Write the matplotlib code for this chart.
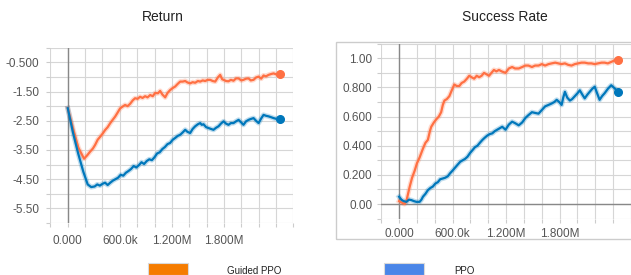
import numpy as np
import matplotlib
matplotlib.use("Agg")
import matplotlib.pyplot as plt
from matplotlib.patches import Rectangle

plt.rcParams['font.family'] = ['Liberation Sans', 'DejaVu Sans']

# ---- data (steps in thousands) ----
ret_guided_x = [0, 65, 122, 188, 225, 257, 290, 315, 345, 373, 400, 430, 460, 488, 515, 546,
                575, 603, 630, 661, 690, 719, 750, 776, 805, 834, 862, 892, 920, 950, 980,
                1007, 1040, 1065, 1090, 1123, 1150, 1180, 1210, 1238, 1267, 1296, 1325, 1354,
                1380, 1411, 1440, 1469, 1500, 1527, 1556, 1584, 1613, 1642, 1670, 1700, 1730,
                1757, 1780, 1796, 1825, 1853, 1880, 1911, 1940, 1969, 2000, 2026, 2055, 2084,
                2110, 2142, 2170, 2200, 2230, 2257, 2285, 2315, 2345, 2373, 2410, 2450]
ret_guided_y = [-2.07, -2.82, -3.42, -3.80, -3.68, -3.56, -3.45, -3.33, -3.15, -3.05, -2.95,
                -2.82, -2.72, -2.59, -2.48, -2.36, -2.22, -2.08, -2.02, -1.96, -2.00, -1.92,
                -1.80, -1.73, -1.75, -1.68, -1.72, -1.66, -1.70, -1.62, -1.66, -1.55, -1.56,
                -1.48, -1.60, -1.70, -1.55, -1.45, -1.38, -1.33, -1.24, -1.16, -1.16, -1.14,
                -1.19, -1.22, -1.18, -1.20, -1.14, -1.16, -1.12, -1.14, -1.10, -1.10, -1.14,
                -1.16, -1.02, -0.93, -1.08, -1.10, -1.14, -1.15, -1.10, -1.13, -1.05, -1.05,
                -1.12, -1.10, -1.06, -1.05, -1.12, -1.10, -1.02, -0.99, -1.06, -0.95, -0.98,
                -0.93, -0.90, -0.88, -0.92, -0.91]

ret_ppo_x = [0, 60, 120, 180, 230, 270, 310, 340, 370, 400, 430, 460, 490, 520, 550, 580, 610,
             640, 670, 700, 730, 760, 790, 820, 850, 880, 910, 940, 970, 1000, 1030, 1060,
             1090, 1120, 1150, 1180, 1210, 1238, 1267, 1296, 1325, 1354, 1380, 1411, 1440,
             1469, 1500, 1527, 1545, 1565, 1595, 1623, 1650, 1680, 1710, 1738, 1765, 1796,
             1825, 1853, 1880, 1911, 1940, 1969, 2000, 2026, 2055, 2084, 2110, 2142, 2170,
             2200, 2230, 2257, 2285, 2315, 2345, 2373, 2410, 2450]
ret_ppo_y = [-2.07, -2.90, -3.62, -4.25, -4.68, -4.77, -4.75, -4.68, -4.72, -4.66, -4.62, -4.70,
             -4.62, -4.55, -4.50, -4.45, -4.35, -4.38, -4.28, -4.22, -4.15, -4.05, -4.10, -4.02,
             -3.92, -3.98, -3.88, -3.82, -3.85, -3.75, -3.62, -3.58, -3.47, -3.40, -3.30, -3.26,
             -3.15, -3.09, -3.02, -2.98, -2.90, -2.81, -2.88, -2.92, -2.78, -2.69, -2.62, -2.58,
             -2.64, -2.62, -2.72, -2.75, -2.78, -2.81, -2.74, -2.69, -2.60, -2.52, -2.60, -2.64,
             -2.58, -2.58, -2.52, -2.47, -2.56, -2.64, -2.52, -2.47, -2.44, -2.41, -2.50, -2.58,
             -2.42, -2.30, -2.33, -2.35, -2.38, -2.41, -2.44, -2.43]

suc_guided_x = [0, 30, 60, 82, 100, 119, 145, 175, 200, 230, 267, 295, 322, 345, 360, 390, 415,
                445, 471, 490, 508, 535, 563, 590, 619, 645, 675, 700, 730, 760, 786, 812, 841,
                870, 897, 925, 952, 980, 1008, 1035, 1063, 1090, 1119, 1150, 1193, 1230, 1267,
                1300, 1341, 1380, 1415, 1450, 1489, 1525, 1563, 1600, 1637, 1675, 1711, 1750,
                1785, 1820, 1859, 1895, 1933, 1970, 2007, 2045, 2081, 2120, 2156, 2193, 2230,
                2270, 2304, 2340, 2378, 2415, 2452]
suc_guided_y = [0.02, 0.01, 0.00, 0.02, 0.07, 0.12, 0.18, 0.23, 0.28, 0.32, 0.38, 0.42, 0.44,
                0.50, 0.53, 0.56, 0.58, 0.60, 0.63, 0.68, 0.71, 0.72, 0.74, 0.78, 0.82, 0.81,
                0.81, 0.83, 0.84, 0.86, 0.88, 0.87, 0.86, 0.88, 0.87, 0.88, 0.90, 0.89, 0.88,
                0.90, 0.92, 0.91, 0.92, 0.91, 0.90, 0.93, 0.94, 0.93, 0.93, 0.94, 0.95, 0.95,
                0.94, 0.95, 0.95, 0.96, 0.95, 0.96, 0.965, 0.97, 0.965, 0.96, 0.965, 0.955, 0.95,
                0.96, 0.965, 0.97, 0.97, 0.965, 0.965, 0.96, 0.965, 0.97, 0.97, 0.965, 0.975,
                0.985, 0.99]

suc_ppo_x = [0, 25, 50, 82, 110, 137, 165, 193, 230, 250, 267, 295, 322, 350, 378, 405, 434,
             460, 489, 515, 545, 570, 600, 628, 656, 685, 712, 740, 767, 795, 823, 850, 878,
             905, 934, 960, 989, 1017, 1045, 1072, 1100, 1128, 1156, 1193, 1230, 1267, 1300,
             1341, 1380, 1415, 1450, 1489, 1525, 1563, 1600, 1637, 1675, 1711, 1740, 1767,
             1795, 1822, 1840, 1859, 1885, 1915, 1940, 1970, 2000, 2026, 2055, 2081, 2110,
             2137, 2165, 2193, 2220, 2248, 2275, 2304, 2340, 2378, 2415, 2452]
suc_ppo_y = [0.05, 0.03, 0.02, 0.015, 0.03, 0.027, 0.02, 0.015, 0.015, 0.03, 0.05, 0.07, 0.095,
             0.11, 0.12, 0.14, 0.15, 0.17, 0.175, 0.18, 0.19, 0.21, 0.23, 0.25, 0.27, 0.29,
             0.30, 0.31, 0.325, 0.35, 0.37, 0.39, 0.40, 0.42, 0.44, 0.455, 0.47, 0.48, 0.485,
             0.50, 0.51, 0.52, 0.53, 0.51, 0.545, 0.565, 0.555, 0.54, 0.56, 0.59, 0.61, 0.63,
             0.625, 0.62, 0.645, 0.67, 0.68, 0.69, 0.70, 0.715, 0.70, 0.68, 0.73, 0.77, 0.73,
             0.71, 0.72, 0.74, 0.76, 0.78, 0.75, 0.725, 0.75, 0.77, 0.79, 0.805, 0.76, 0.715,
             0.74, 0.76, 0.79, 0.815, 0.795, 0.77]

x_tick_vals = [0, 600e3, 1.2e6, 1.8e6]
x_tick_labels = ['0.000', '600.0k', '1.200M', '1.800M']
ret_tick_vals = [-0.5, -1.5, -2.5, -3.5, -4.5, -5.5]
ret_tick_labels = ['-0.500', '-1.50', '-2.50', '-3.50', '-4.50', '-5.50']
suc_tick_vals = [0.0, 0.2, 0.4, 0.6, 0.8, 1.0]
suc_tick_labels = ['0.00', '0.200', '0.400', '0.600', '0.800', '1.00']

ORANGE = '#ff7043'
BLUE = '#0077bb'
W, H = 631, 275


def px_box(x0, x1, y0, y1):
    # pixel box (top-left origin) -> figure fraction rect
    return [x0 / W, 1 - y1 / H, (x1 - x0) / W, (y1 - y0) / H]


def style_axes(ax, xlim, ylim, xgrid, ygrid, yvals, ylabels, xpad, ypad):
    ax.set_xlim(*xlim)
    ax.set_ylim(*ylim)
    for s in ax.spines.values():
        s.set_visible(False)
    ax.set_xticks(xgrid)
    ax.set_xticklabels([x_tick_labels[x_tick_vals.index(v)] if v in x_tick_vals else ''
                        for v in xgrid])
    ax.set_yticks(ygrid)
    ylab = []
    for v in ygrid:
        m = [l for tv, l in zip(yvals, ylabels) if abs(tv - v) < 1e-6]
        ylab.append(m[0] if m else '')
    ax.set_yticklabels(ylab)
    ax.grid(True, color='#d6d6d6', lw=0.8)
    ax.set_axisbelow(True)
    ax.tick_params(axis='x', length=3, color='#cccccc', labelcolor='#555555',
                   labelsize=8.5, pad=xpad)
    ax.tick_params(axis='y', length=3, color='#cccccc', labelcolor='#555555',
                   labelsize=8.5, pad=ypad)
    ax.axvline(0, color='#888888', lw=1.0, zorder=1)


def draw(ax, x, y, color):
    xs = np.array(x) * 1e3
    ys = np.array(y)
    ax.plot(xs, ys, color=color, lw=3.6, alpha=0.25, zorder=2)
    ax.plot(xs, ys, color=color, lw=1.6, zorder=3)
    ax.plot(xs[-1], ys[-1], 'o', color=color, ms=5.5, zorder=4)


fig = plt.figure(figsize=(W / 100, H / 100), dpi=100)

# right panel frame
fig.add_artist(Rectangle((336 / W, 1 - 239 / H), 1.0, (239 - 42) / H, transform=fig.transFigure,
                         fill=False, edgecolor='#cccccc', lw=1.0))

ax1 = fig.add_axes(px_box(50.4, 293.3, 47.7, 223))
style_axes(ax1, (-200e3, 2600e3), (-6.0, 0.0),
           np.arange(-200e3, 2600e3 + 1, 200e3), np.arange(-6.0, 0.01, 0.5),
           ret_tick_vals, ret_tick_labels, xpad=6, ypad=5)
draw(ax1, ret_guided_x, ret_guided_y, ORANGE)
draw(ax1, ret_ppo_x, ret_ppo_y, BLUE)

ax2 = fig.add_axes(px_box(381.3, 631, 43.7, 218.6))
style_axes(ax2, (-200e3, 2574e3), (-0.1, 1.1),
           np.arange(-200e3, 2600e3 + 1, 200e3), np.round(np.arange(-0.1, 1.11, 0.1), 2),
           suc_tick_vals, suc_tick_labels, xpad=3.5, ypad=3.5)
ax2.axhline(0, color='#888888', lw=1.0, zorder=1)
draw(ax2, suc_guided_x, suc_guided_y, ORANGE)
draw(ax2, suc_ppo_x, suc_ppo_y, BLUE)

fig.text(163 / W, 1 - 17 / H, 'Return', ha='center', va='center', fontsize=10, color='#222222')
fig.text(505 / W, 1 - 17 / H, 'Success Rate', ha='center', va='center', fontsize=10,
         color='#222222')

# legend
fig.add_artist(Rectangle((148 / W, 0), 40 / W, 12.5 / H, transform=fig.transFigure,
                         facecolor='#f57c00', edgecolor='#d9d9d9', lw=0.8))
fig.add_artist(Rectangle((384 / W, 0), 40 / W, 12.5 / H, transform=fig.transFigure,
                         facecolor='#4a86e8', edgecolor='#d9d9d9', lw=0.8))
fig.text(227 / W, 4.5 / H, 'Guided PPO', ha='left', va='center', fontsize=7, color='#222222')
fig.text(454 / W, 4.5 / H, 'PPO', ha='left', va='center', fontsize=7, color='#222222')

fig.savefig('out.png', dpi=100)
